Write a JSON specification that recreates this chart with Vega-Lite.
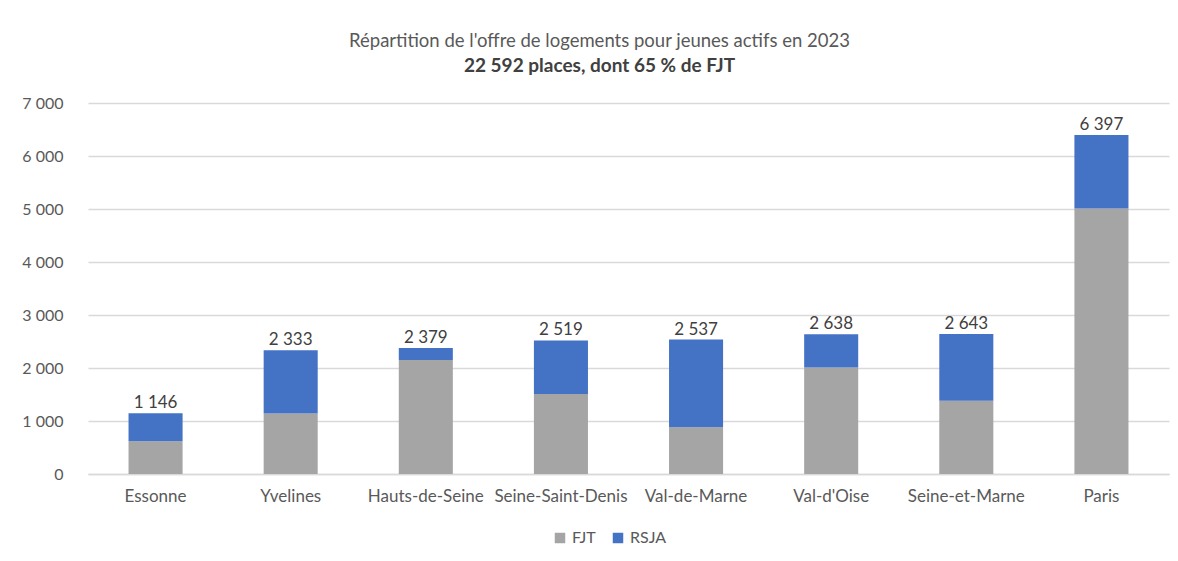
{
  "$schema": "https://vega.github.io/schema/vega-lite/v6.json",
  "width": 1081,
  "height": 371,
  "autosize": "none",
  "padding": {"left": 88, "top": 103, "right": 9, "bottom": 87},
  "background": "white",
  "title": {
    "text": "Répartition de l'offre de logements pour jeunes actifs en 2023",
    "subtitle": "22 592 places, dont 65 % de FJT",
    "anchor": "middle",
    "dx": -29,
    "offset": 19,
    "font": "Lato",
    "fontSize": 18.5,
    "fontWeight": "normal",
    "color": "#595959",
    "subtitleFont": "Lato",
    "subtitleFontSize": 19,
    "subtitleFontWeight": "bold",
    "subtitleColor": "#404040",
    "subtitlePadding": 7
  },
  "data": {
    "values": [
      {"departement": "Essonne", "type": "FJT", "places": 620},
      {"departement": "Essonne", "type": "RSJA", "places": 526},
      {"departement": "Yvelines", "type": "FJT", "places": 1140},
      {"departement": "Yvelines", "type": "RSJA", "places": 1193},
      {"departement": "Hauts-de-Seine", "type": "FJT", "places": 2150},
      {"departement": "Hauts-de-Seine", "type": "RSJA", "places": 229},
      {"departement": "Seine-Saint-Denis", "type": "FJT", "places": 1510},
      {"departement": "Seine-Saint-Denis", "type": "RSJA", "places": 1009},
      {"departement": "Val-de-Marne", "type": "FJT", "places": 880},
      {"departement": "Val-de-Marne", "type": "RSJA", "places": 1657},
      {"departement": "Val-d'Oise", "type": "FJT", "places": 2010},
      {"departement": "Val-d'Oise", "type": "RSJA", "places": 628},
      {"departement": "Seine-et-Marne", "type": "FJT", "places": 1380},
      {"departement": "Seine-et-Marne", "type": "RSJA", "places": 1263},
      {"departement": "Paris", "type": "FJT", "places": 5010},
      {"departement": "Paris", "type": "RSJA", "places": 1387}
    ]
  },
  "encoding": {
    "x": {
      "field": "departement",
      "type": "nominal",
      "sort": null,
      "scale": {"paddingInner": 0.6, "paddingOuter": 0.3},
      "axis": {
        "title": null,
        "labelAngle": 0,
        "labelFont": "Lato",
        "labelFontSize": 17,
        "labelColor": "#595959",
        "labelPadding": 14,
        "ticks": false,
        "domain": true,
        "domainColor": "#D9D9D9",
        "domainWidth": 1.5,
        "grid": false
      }
    }
  },
  "layer": [
    {
      "mark": {"type": "bar", "stroke": null},
      "encoding": {
        "y": {
          "field": "places",
          "type": "quantitative",
          "aggregate": "sum",
          "stack": "zero",
          "scale": {"domain": [0, 7000], "nice": false},
          "axis": {
            "title": null,
            "values": [0, 1000, 2000, 3000, 4000, 5000, 6000, 7000],
            "labelExpr": "replace(format(datum.value, ','), ',', ' ')",
            "labelFont": "Lato",
            "labelFontSize": 16,
            "labelColor": "#595959",
            "labelPadding": 25,
            "ticks": false,
            "domain": false,
            "grid": true,
            "gridColor": "#D9D9D9",
            "gridWidth": 1.5
          }
        },
        "color": {
          "field": "type",
          "type": "nominal",
          "scale": {"domain": ["FJT", "RSJA"], "range": ["#A5A5A5", "#4472C4"]},
          "legend": {
            "title": null,
            "orient": "none",
            "direction": "horizontal",
            "legendX": 464,
            "legendY": 427,
            "symbolType": "square",
            "symbolSize": 110,
            "symbolStrokeWidth": 0,
            "labelFont": "Lato",
            "labelFontSize": 16,
            "labelColor": "#595959",
            "labelOffset": 4,
            "columnPadding": 14
          }
        },
        "order": {"field": "type", "sort": "ascending"}
      }
    },
    {
      "mark": {
        "type": "text",
        "baseline": "bottom",
        "dy": -1,
        "font": "Lato",
        "fontSize": 17,
        "color": "#404040"
      },
      "encoding": {
        "y": {"field": "places", "type": "quantitative", "aggregate": "sum"},
        "text": {"field": "places", "type": "quantitative", "aggregate": "sum", "format": ",d"}
      }
    }
  ],
  "config": {
    "locale": {
      "number": {"decimal": ",", "thousands": " ", "grouping": [3], "currency": ["", " €"]}
    },
    "view": {"stroke": null}
  }
}
